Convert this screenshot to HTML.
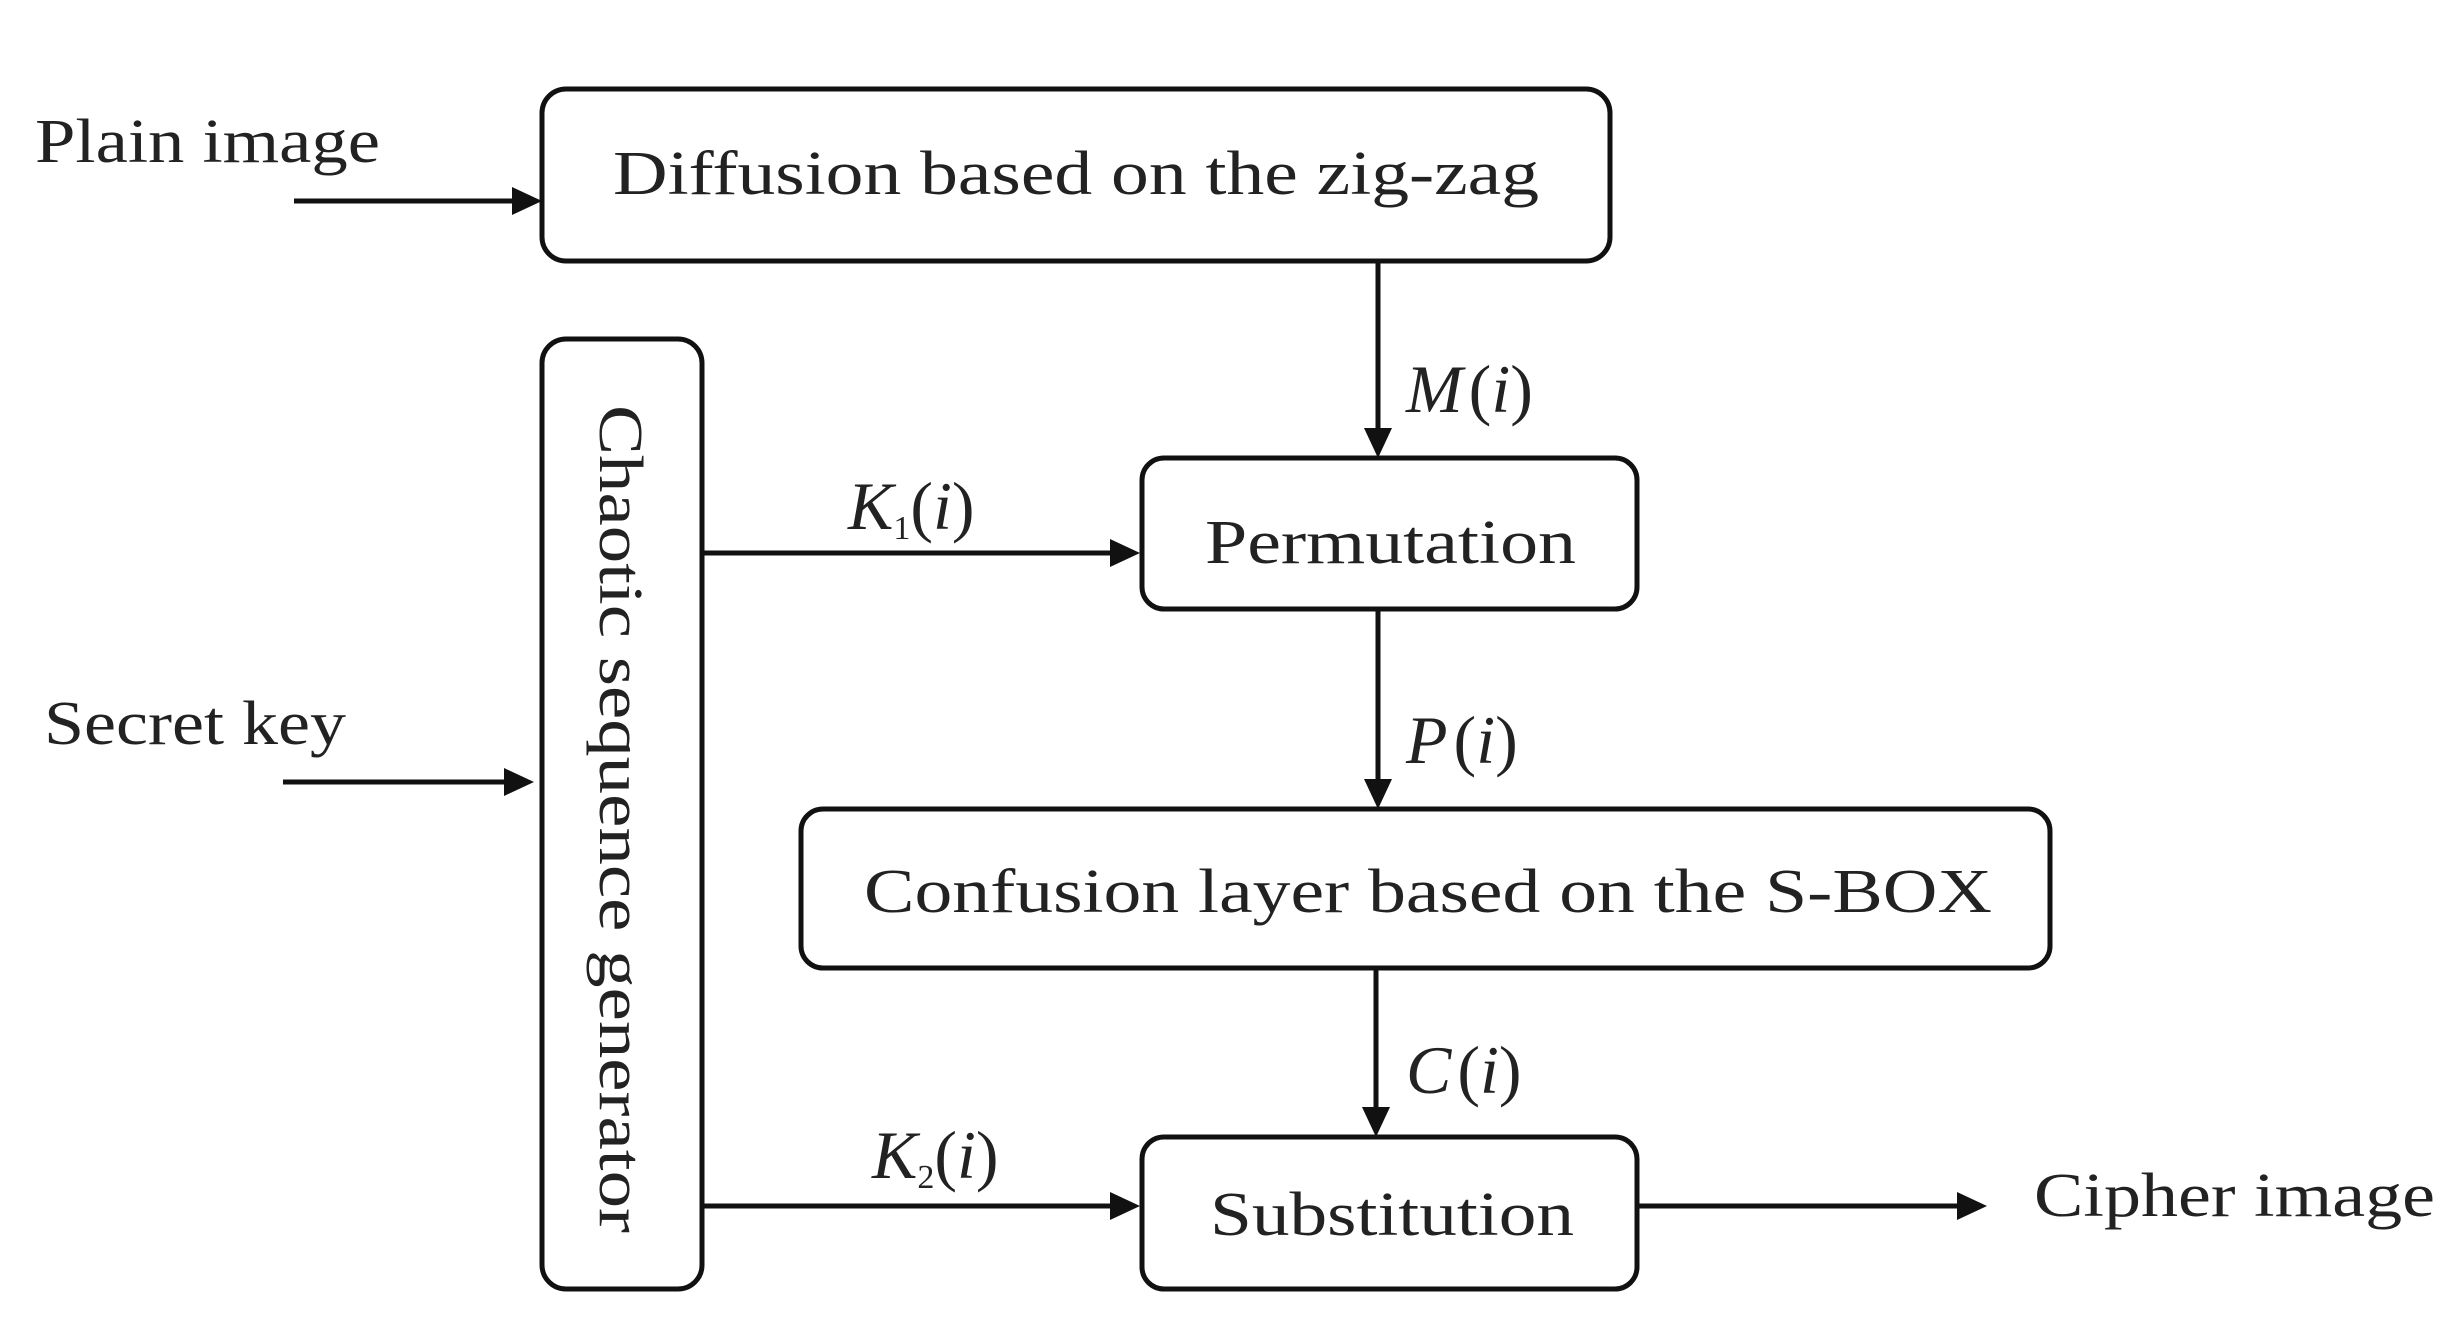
<!DOCTYPE html>
<html><head><style>html,body{margin:0;padding:0;background:#fff}</style></head>
<body>
<svg width="2451" height="1328" viewBox="0 0 2451 1328" xmlns="http://www.w3.org/2000/svg">
<defs>
<marker id="a" markerWidth="10" markerHeight="10" refX="9" refY="5" orient="auto" markerUnits="userSpaceOnUse" viewBox="0 0 10 10">
</marker>
</defs>
<g fill="none" stroke="#111" stroke-width="5">
<rect x="542" y="89" width="1068" height="172" rx="24"/>
<rect x="542" y="339" width="160" height="950" rx="24"/>
<rect x="1142" y="458" width="495" height="151" rx="22"/>
<rect x="801" y="809" width="1249" height="159" rx="22"/>
<rect x="1142" y="1137" width="495" height="152" rx="22"/>
<line x1="294" y1="201" x2="515" y2="201"/>
<line x1="283" y1="782" x2="508" y2="782"/>
<line x1="1378" y1="261" x2="1378" y2="430"/>
<line x1="702" y1="553" x2="1112" y2="553"/>
<line x1="1378" y1="609" x2="1378" y2="781"/>
<line x1="1376" y1="968" x2="1376" y2="1109"/>
<line x1="702" y1="1206" x2="1112" y2="1206"/>
<line x1="1637" y1="1206" x2="1960" y2="1206"/>
</g>
<g fill="#111">
<polygon points="542,201 512,187 512,215"/>
<polygon points="534,782 504,768 504,796"/>
<polygon points="1378,458 1364,428 1392,428"/>
<polygon points="1140,553 1110,539 1110,567"/>
<polygon points="1378,809 1364,779 1392,779"/>
<polygon points="1376,1137 1362,1107 1390,1107"/>
<polygon points="1140,1206 1110,1192 1110,1220"/>
<polygon points="1987,1206 1957,1192 1957,1220"/>
</g>
<g font-family="Liberation Serif, serif" font-size="62" fill="#222">
<text x="35" y="162" textLength="345" lengthAdjust="spacingAndGlyphs">Plain image</text>
<text x="44" y="744" textLength="302" lengthAdjust="spacingAndGlyphs">Secret key</text>
<text x="613" y="194" textLength="926" lengthAdjust="spacingAndGlyphs">Diffusion based on the zig-zag</text>
<text x="1205" y="563" textLength="371" lengthAdjust="spacingAndGlyphs">Permutation</text>
<text x="864" y="912" textLength="1128" lengthAdjust="spacingAndGlyphs">Confusion layer based on the S-BOX</text>
<text x="1210" y="1235" textLength="364" lengthAdjust="spacingAndGlyphs">Substitution</text>
<text x="2034" y="1216" textLength="401" lengthAdjust="spacingAndGlyphs">Cipher image</text>
<text transform="translate(600,405) rotate(90)" x="0" y="0" textLength="828" lengthAdjust="spacingAndGlyphs">Chaotic sequence generator</text>
<g font-style="italic">
<text x="1406" y="412" font-size="68">M<tspan font-style="normal" dx="6">(</tspan>i<tspan font-style="normal">)</tspan></text>
<text x="848" y="529" font-size="68">K<tspan font-size="34" font-style="normal" dy="10">1</tspan><tspan font-style="normal" dy="-10">(</tspan>i<tspan font-style="normal">)</tspan></text>
<text x="1406" y="763" font-size="68">P<tspan font-style="normal" dx="6">(</tspan>i<tspan font-style="normal">)</tspan></text>
<text x="1406" y="1093" font-size="68">C<tspan font-style="normal" dx="6">(</tspan>i<tspan font-style="normal">)</tspan></text>
<text x="872" y="1178" font-size="68">K<tspan font-size="34" font-style="normal" dy="10">2</tspan><tspan font-style="normal" dy="-10">(</tspan>i<tspan font-style="normal">)</tspan></text>
</g>
</g>
</svg>
</body></html>
